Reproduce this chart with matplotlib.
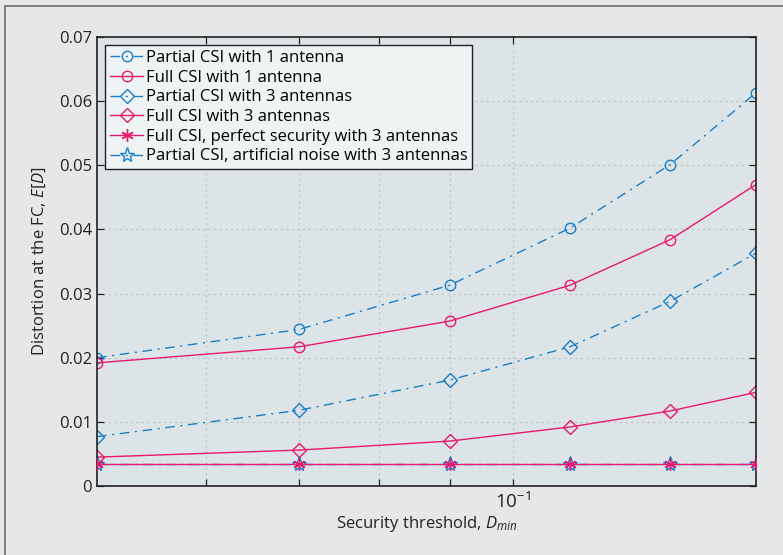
import numpy as np
import matplotlib
matplotlib.use("Agg")
import matplotlib.pyplot as plt
from matplotlib.patches import Rectangle
from matplotlib.ticker import FixedLocator, FuncFormatter, NullFormatter

plt.rcParams['font.family'] = ['Open Sans', 'DejaVu Sans']
plt.rcParams['mathtext.fontset'] = 'custom'
plt.rcParams['mathtext.rm'] = 'Open Sans'
plt.rcParams['mathtext.it'] = 'Open Sans:italic'

# limiar de seguranca D_min
d_min = [0.05, 0.07, 0.09, 0.11, 0.13, 0.15]

# distorcao E[D] de cada esquema
partial_1ant = [0.0200, 0.0244, 0.0313, 0.0402, 0.0501, 0.0613]
full_1ant = [0.0192, 0.0217, 0.0257, 0.0313, 0.0384, 0.0470]
partial_3ant = [0.0077, 0.0118, 0.0165, 0.0217, 0.0288, 0.0363]
full_3ant = [0.0045, 0.0056, 0.0070, 0.0092, 0.0117, 0.0146]
full_perfect_3ant = [0.0034, 0.0034, 0.0034, 0.0034, 0.0034, 0.0034]
partial_an_3ant = [0.0034, 0.0034, 0.0034, 0.0034, 0.0034, 0.0034]

labels = [
    'Partial CSI with 1 antenna',
    'Full CSI with 1 antenna',
    'Partial CSI with 3 antennas',
    'Full CSI with 3 antennas',
    'Full CSI, perfect security with 3 antennas',
    'Partial CSI, artificial noise with 3 antennas',
]

azul = '#1a7fc6'
rosa = '#e8196f'
traco_ponto = (0, (7, 4, 1.5, 4))

fig = plt.figure(figsize=(7.83, 5.55), dpi=100, facecolor='#e6e7e8')
# moldura externa
fig.patches.append(Rectangle((5 / 783, -0.01), 1.0, 1 - 6 / 555 + 0.01,
                             transform=fig.transFigure, fill=False,
                             edgecolor='#808080', linewidth=1.4))

ax = fig.add_axes([97 / 783, 1 - 486 / 555, (756 - 97) / 783, (486 - 37) / 555])
ax.set_facecolor('#dce4e7')

lw = 1.0
ax.plot(d_min, partial_1ant, color=azul, ls=traco_ponto, lw=lw, marker='o', ms=7.5,
        mfc='none', mew=1.0, label=labels[0])
ax.plot(d_min, full_1ant, '-', color=rosa, lw=lw, marker='o', ms=7.5,
        mfc='none', mew=1.0, label=labels[1])
ax.plot(d_min, partial_3ant, color=azul, ls=traco_ponto, lw=lw, marker='D', ms=7.5,
        mfc='none', mew=1.0, label=labels[2])
ax.plot(d_min, full_3ant, '-', color=rosa, lw=lw, marker='D', ms=7.5,
        mfc='none', mew=1.0, label=labels[3])
ax.plot(d_min, full_perfect_3ant, '-', color=rosa, lw=lw, marker=(6, 2, 0),
        ms=9, mew=1.0, label=labels[4], zorder=3)
ax.plot(d_min, partial_an_3ant, color=azul, ls=traco_ponto, lw=lw, marker='*', ms=11,
        mfc='none', mew=1.0, label=labels[5], zorder=2)

ax.set_xscale('log')
ax.set_xlim(0.05, 0.15)
ax.set_ylim(0, 0.07)

ax.xaxis.set_major_locator(FixedLocator([0.1]))
ax.xaxis.set_major_formatter(FuncFormatter(lambda v, p: r'10$^{\mathregular{-1}}$'))
ax.xaxis.set_minor_locator(FixedLocator([0.06, 0.07, 0.08, 0.09]))
ax.xaxis.set_minor_formatter(NullFormatter())
ax.set_yticks(np.arange(0, 0.071, 0.01))
ax.yaxis.set_major_formatter(FuncFormatter(lambda v, p: '0' if v == 0 else f'{v:.2f}'))

ax.tick_params(which='both', direction='in', top=True, right=True,
               length=5, width=0.9, labelsize=12, colors='#222222',
               labelcolor='#222222')
ax.tick_params(axis='x', labelsize=13.5, pad=4)
ax.grid(True, which='both', linestyle=(0, (2, 3)), color='#bfc3c5', lw=0.8)
for s in ax.spines.values():
    s.set_color('#222222')
    s.set_linewidth(1.2)

ax.set_xlabel(r'Security threshold, $D_{min}$', fontsize=12, color='#222222', labelpad=2)
ax.set_ylabel(r'Distortion at the FC, $E[D]$', fontsize=12, color='#222222', labelpad=8)

leg = ax.legend(loc='upper left', bbox_to_anchor=(0.012, 0.982), fontsize=12,
                frameon=True, fancybox=False, framealpha=1, borderpad=0.3,
                handlelength=2.0, handletextpad=0.15, labelspacing=0.22,
                borderaxespad=0)
leg.get_frame().set_facecolor('#eef3f4')
leg.get_frame().set_edgecolor('#222222')
leg.get_frame().set_linewidth(1.0)

fig.savefig('out.png', dpi=100, facecolor=fig.get_facecolor())
